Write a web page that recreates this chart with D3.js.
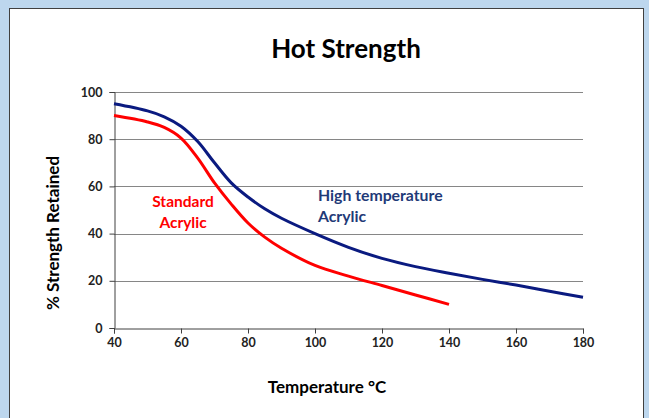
<!DOCTYPE html>
<html lang="en">
<head>
<meta charset="utf-8">
<script src="https://cdn.jsdelivr.net/npm/d3@7"></script>
<title>Hot Strength</title>
<style>
body{
margin:0;
background:#bdd7ee;
font-family: 'Lato', sans-serif;
}
svg{
display:block;
}
</style>
</head>
<body>
<svg width="649" height="418"></svg>
<script>
// values
var xTicks = [40, 60, 80, 100, 120, 140, 160, 180];
var yTicks = [0, 20, 40, 60, 80, 100];

var stdTemp = [40, 50, 55, 60, 65, 70, 75, 80, 85, 90, 100, 110, 120, 130, 140];
var stdVal  = [90, 87.3, 85, 80.5, 72, 61.5, 52.5, 44.5, 38.5, 33.8, 26.5, 22, 18, 14, 10];

var highTemp = [40, 50, 55, 60, 65, 70, 75, 80, 85, 90, 100, 110, 120, 130, 140, 150, 160, 170, 180];
var highVal  = [95, 92, 89.5, 85.5, 79, 70, 61.5, 55.5, 50.5, 46.5, 40, 34.2, 29.5, 26, 23.2, 20.6, 18.2, 15.6, 13];

var plotLeft = 114, plotRight = 583, plotTop = 92, plotBottom = 328;

var svg = d3.select("svg");

// chart box
svg.append("rect")
.attr("x",9.5).attr("y",8.5)
.attr("width",634).attr("height",420)
.attr("fill","white")
.attr("stroke","#404040")
.attr("stroke-width",1);

var x = d3.scaleLinear().domain([40,180]).range([plotLeft,plotRight]);
var y = d3.scaleLinear().domain([0,100]).range([plotBottom,plotTop]);

// gridlines
svg.append("g").selectAll("line")
.data(yTicks.filter(function(d){return d>0})).enter()
.append("line")
.attr("x1",plotLeft).attr("x2",plotRight)
.attr("y1",function(d){return Math.round(y(d))+0.5})
.attr("y2",function(d){return Math.round(y(d))+0.5})
.attr("stroke","#868686")
.attr("stroke-width",1);

// axes
var xAxis = svg.append("g")
.attr("transform","translate(0,"+(plotBottom+0.5)+")")
.call(d3.axisBottom(x).tickValues(xTicks).tickSize(5).tickPadding(5));

var yAxis = svg.append("g")
.attr("transform","translate("+(plotLeft+0.5)+",0)")
.call(d3.axisLeft(y).tickValues(yTicks).tickSize(5).tickPadding(7));

[xAxis,yAxis].forEach(function(a){
  a.select(".domain").attr("stroke","#404040");
  a.selectAll(".tick line").attr("stroke","#404040");
  a.selectAll("text")
  .attr("font-family","Lato, sans-serif")
  .attr("font-weight",700)
  .attr("font-size",12.5)
  .attr("fill","#222");
});

// curves
var line = d3.line()
.x(function(d){return x(d[0])})
.y(function(d){return y(d[1])})
.curve(d3.curveCatmullRom.alpha(0.5));

svg.append("path")
.datum(d3.zip(highTemp,highVal))
.attr("d",line)
.attr("fill","none")
.attr("stroke","#0a1a80")
.attr("stroke-width",3);

svg.append("path")
.datum(d3.zip(stdTemp,stdVal))
.attr("d",line)
.attr("fill","none")
.attr("stroke","#ff0000")
.attr("stroke-width",3);

// series labels
svg.append("text")
.attr("x",183).attr("y",207)
.attr("text-anchor","middle")
.attr("fill","#ff0000")
.attr("font-weight",700)
.attr("font-size",15.5)
.text("Standard");
svg.append("text")
.attr("x",183).attr("y",228)
.attr("text-anchor","middle")
.attr("fill","#ff0000")
.attr("font-weight",700)
.attr("font-size",15.5)
.text("Acrylic");

svg.append("text")
.attr("x",318).attr("y",201)
.attr("fill","#1f3a78")
.attr("font-weight",700)
.attr("font-size",15.8)
.text("High temperature");
svg.append("text")
.attr("x",318).attr("y",222)
.attr("fill","#1f3a78")
.attr("font-weight",700)
.attr("font-size",15.8)
.text("Acrylic");

// titles
svg.append("text")
.attr("x",346).attr("y",58)
.attr("text-anchor","middle")
.attr("font-weight",700)
.attr("font-size",26)
.attr("fill","#000")
.text("Hot Strength");

svg.append("text")
.attr("x",327).attr("y",393)
.attr("text-anchor","middle")
.attr("font-weight",700)
.attr("font-size",17)
.attr("fill","#000")
.text("Temperature °C");

svg.append("text")
.attr("transform","translate(59,233) rotate(-90)")
.attr("text-anchor","middle")
.attr("font-weight",700)
.attr("font-size",17)
.attr("fill","#000")
.text("% Strength Retained");
</script>
</body>
</html>
